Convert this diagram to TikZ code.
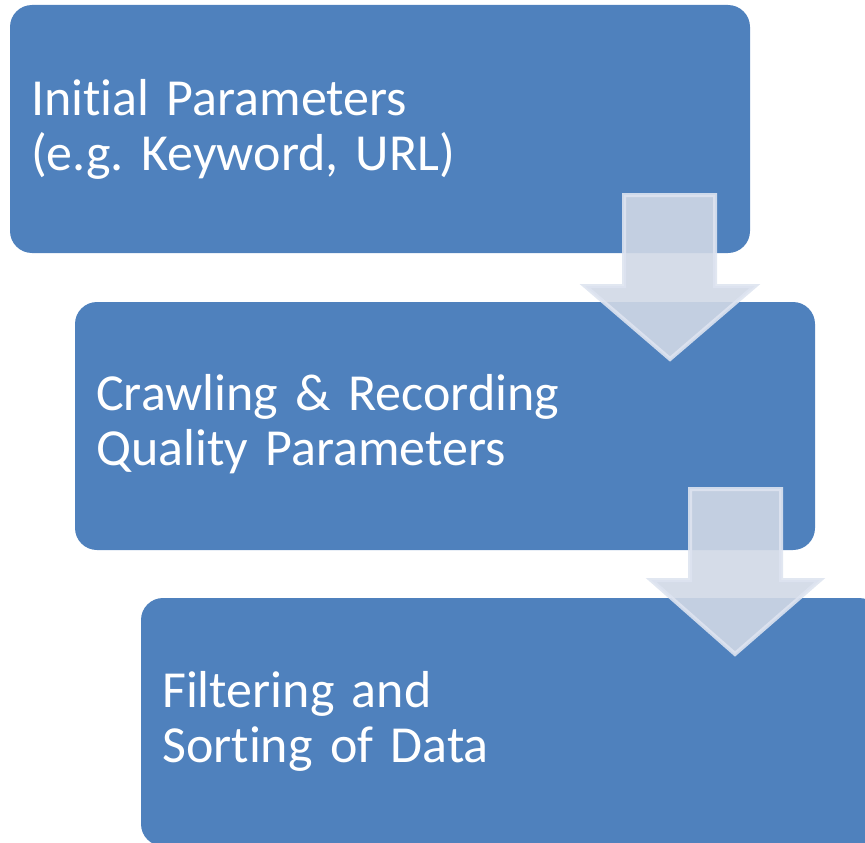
\documentclass[tikz,border=0pt]{standalone}
\usepackage{fontspec}
\setmainfont[Ligatures=NoCommon]{Carlito}
\frenchspacing
\definecolor{stepblue}{RGB}{79,129,189}
\definecolor{arrowfill}{RGB}{208,216,230}
\definecolor{arrowedge}{RGB}{222,228,240}
\begin{document}
\begin{tikzpicture}[x=1pt,y=-1pt,
  stepbox/.style={fill=stepblue, draw=none, rounded corners=22pt,
    minimum width=740pt, minimum height=248pt, anchor=north west,
    inner sep=0pt, outer sep=0pt},
  steptext/.style={text=white, anchor=base west, inner sep=0pt,
    text width=650pt, align=left,
    font=\fontsize{52}{55}\selectfont},
  downarrow/.style={fill=arrowfill, fill opacity=0.9, draw=arrowedge,
    draw opacity=0.9, line width=4pt, line join=miter}]
  \useasboundingbox (0,0) rectangle (865,843);
  \begin{scope}
    \clip (0,0) rectangle (865,843);
    % the three process steps
    \node[stepbox] (s1) at (10,5) {};
    \node[stepbox] (s2) at (75,302) {};
    \node[stepbox] (s3) at (141,598) {};
    \node[steptext] (t1) at (31,115) {Initial Parameters\\(e.g. Keyword, URL)};
    \node[steptext] (t2) at (96,410) {Crawling \& Recording\\Quality Parameters};
    \node[steptext] (t3) at (162,707) {Filtering and\\Sorting of Data};
    % block arrows between the steps
    \draw[downarrow] (624,195) -- (715,195) -- (715,286) -- (755,286)
      -- (670,359) -- (585,286) -- (624,286) -- cycle;
    \draw[downarrow] (690,489) -- (781,489) -- (781,580) -- (820,580)
      -- (735,654) -- (651,580) -- (690,580) -- cycle;
  \end{scope}
\end{tikzpicture}
\end{document}
